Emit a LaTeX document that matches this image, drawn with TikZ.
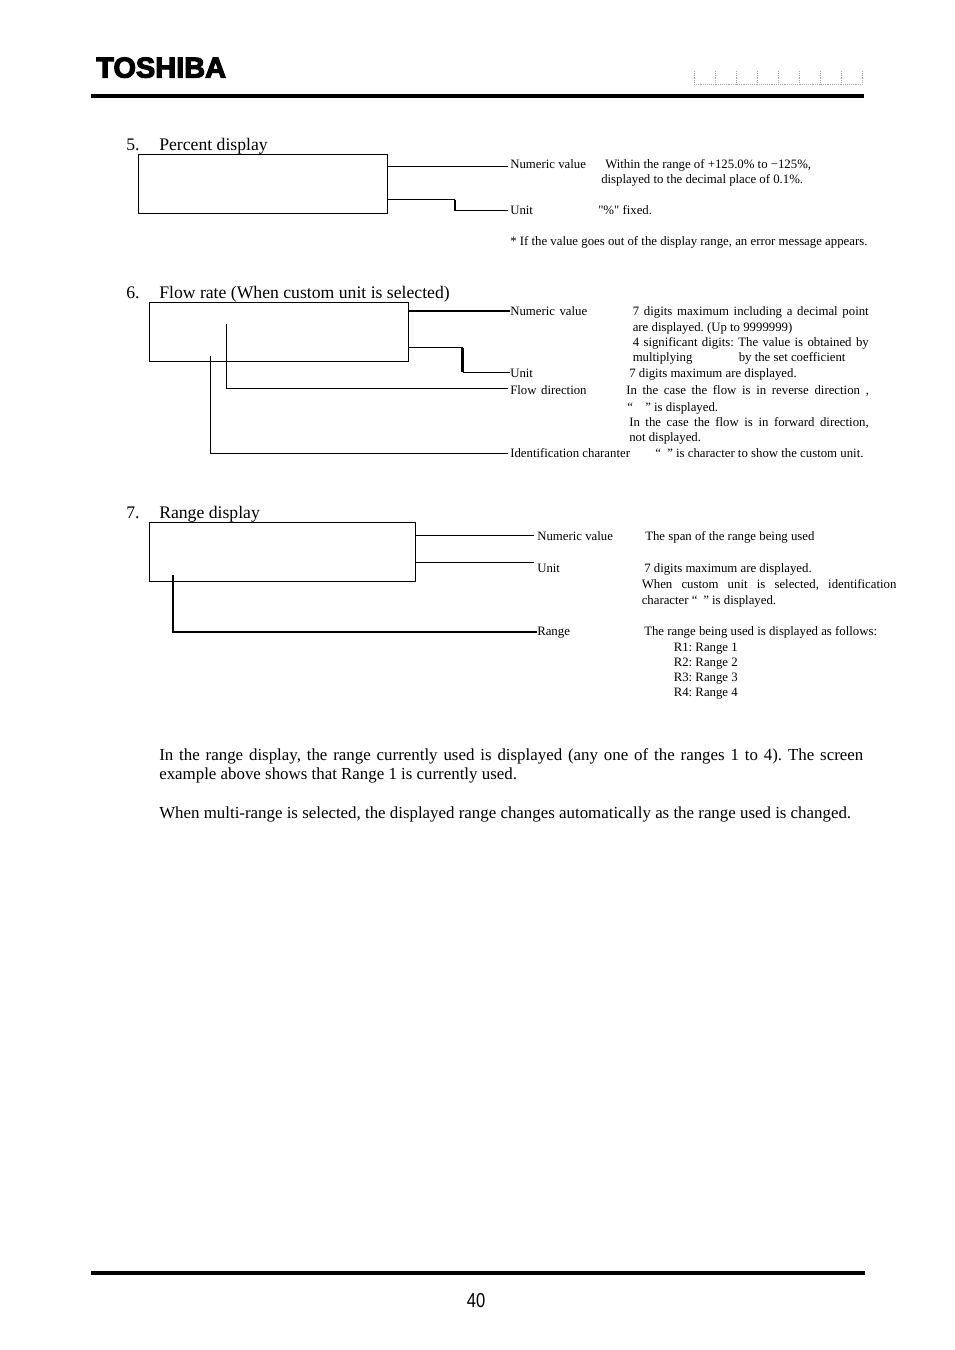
\documentclass[tikz,border=0pt]{standalone}
\usepackage{fontspec}
\setmainfont{Liberation Serif}
\newfontfamily\rawfont{Liberation Serif}
\newfontfamily\logofont[FakeBold=4]{Liberation Sans Bold}
\newfontfamily\numfont{Liberation Sans}
\newcommand{\sm}{\frenchspacing\fontsize{9.6}{11}\selectfont}
\newcommand{\bd}{\frenchspacing\fontsize{12.66}{15}\selectfont}
\newcommand{\hd}{\frenchspacing\fontsize{13.25}{15}\selectfont}
\newcommand{\jl}[2]{\makebox[#1][s]{#2}}
\tikzset{
  x=0.75pt,y=-0.75pt,
  small/.style={anchor=base west,inner sep=0pt,font=\sm},
  body/.style={anchor=base west,inner sep=0pt,font=\bd},
  head/.style={anchor=base west,inner sep=0pt,font=\hd},
  lcdbox/.style={draw,line width=0.75pt},
  lead/.style={line width=0.75pt},
  leadb/.style={line width=1.6pt},
  rulebar/.style={line width=2.6pt,line cap=butt},
  tickline/.style={line width=0.4pt,gray!70,densely dotted}
}
\begin{document}
\begin{tikzpicture}
\useasboundingbox (0,0) rectangle (954,1350);
\fill[white] (0,0) rectangle (954,1350);
% header
\node[anchor=base west,inner sep=0pt,font=\logofont\fontsize{21.5}{23}\selectfont] (logo) at (96,77.5) {\scalebox{1.01}[1.0]{TOSHIBA}};
\coordinate (h1) at (91,96); \coordinate (h2) at (864,96);
\draw[rulebar] (h1) -- (h2);
\coordinate (f1) at (91,1273); \coordinate (f2) at (865,1273);
\draw[rulebar] (f1) -- (f2);
\coordinate (r1) at (694,84.5); \coordinate (r2) at (863,84.5);
\draw[tickline] (r1) -- (r2);
\foreach \i in {0,...,8} {
  \draw[tickline] ({694.3+\i*21.05},71) -- ({694.3+\i*21.05},84.5);
}
\node[anchor=base,inner sep=0pt,font=\numfont\fontsize{13.5}{15}\selectfont] (pg) at (476,1307) {\scalebox{0.92}[1.12]{40}};

% section 5
\node[head] (t5n) at (126,150) {5.};
\node[head] (t5) at (159,150) {Percent display};
\node[lcdbox,anchor=north west,minimum width=249*0.75pt,minimum height=59*0.75pt,inner sep=0pt] (box5) at (138,154) {};
\node[small] (a1) at (510,168) {Numeric value};
\node[small] (a1a) at (605,168) {Within the range of +125.0\% to −125\%,};
\node[small] (a1b) at (601,183) {displayed to the decimal place of 0.1\%.};
\node[small] (a2) at (510,214) {Unit};
\node[small] (a2a) at (598,214) {{\rawfont"\%"} fixed.};
\node[small] (a3) at (510,245) {* If the value goes out of the display range, an error message appears.};
\coordinate (p1) at (388,166); \coordinate (p1e) at (508,166);
\draw[lead] (p1) -- (p1e);
\coordinate (p2) at (388,199.5); \coordinate (p2b) at (455,199.5); \coordinate (p2c) at (455,210.5); \coordinate (p2e) at (508,210.5);
\draw[lead] (p2) -- (p2b);
\draw[leadb] (p2b) -- (p2c);
\draw[lead] (p2c) -- (p2e);

% section 6
\node[head] (t6n) at (126,298) {6.};
\node[head] (t6) at (159,298) {Flow rate (When custom unit is selected)};
\node[lcdbox,anchor=north west,minimum width=259*0.75pt,minimum height=59*0.75pt,inner sep=0pt] (box6) at (149,302) {};
\node[small] (b1) at (510,315) {Numeric\hspace{1pt} value};
\node[small] (b1a) at (632.5,315) {\jl{177pt}{7 digits maximum including a decimal point}};
\node[small] (b1b) at (632.5,331) {are displayed. (Up to 9999999)};
\node[small] (b1c) at (632.5,346) {\jl{177pt}{4 significant digits: The value is obtained by}};
\node[small] (b1d) at (632.5,361) {multiplying};
\node[small] (b1e) at (738.5,361) {by the set coefficient};
\node[small] (b2) at (510,377) {Unit};
\node[small] (b2a) at (629,377) {7 digits maximum are displayed.};
\node[small] (b3) at (510,394) {Flow\hspace{1pt} direction};
\node[small] (b3a) at (626,394) {\jl{182pt}{In the case the flow is in reverse direction ,}};
\node[small] (b3b) at (627,411) {“};
\node[small] (b3c) at (645,411) {” is displayed.};
\node[small] (b3d) at (629,426) {\jl{179.6pt}{In the case the flow is in forward direction,}};
\node[small] (b3e) at (629,441) {not displayed.};
\node[small] (b4) at (510,457) {Identification charanter};
\node[small] (b4a) at (655,457) {“};
\node[small] (b4b) at (667,457) {” is character to show the custom unit.};
\coordinate (q1) at (408,311); \coordinate (q1e) at (510,311);
\draw[leadb] (q1) -- (q1e);
\coordinate (q2) at (409,347.5); \coordinate (q2b) at (462.5,347.5); \coordinate (q2c) at (462.5,372); \coordinate (q2e) at (510,372);
\draw[lead] (q2) -- (q2b);
\draw[leadb] (q2b) -- (q2c);
\draw[lead] (q2c) -- (q2e);
\coordinate (q3) at (226.5,324); \coordinate (q3b) at (226.5,388.5); \coordinate (q3e) at (508,388.5);
\draw[lead] (q3) -- (q3b) -- (q3e);
\coordinate (q4) at (210.5,356); \coordinate (q4b) at (210.5,453.5); \coordinate (q4e) at (508,453.5);
\draw[lead] (q4) -- (q4b) -- (q4e);

% section 7
\node[head] (t7n) at (126,518) {7.};
\node[head] (t7) at (159,518) {Range display};
\node[lcdbox,anchor=north west,minimum width=266*0.75pt,minimum height=59*0.75pt,inner sep=0pt] (box7) at (149,522) {};
\node[small] (c1) at (537,540) {Numeric value};
\node[small] (c1a) at (645,540) {The span of the range being used};
\node[small] (c2) at (537,572) {Unit};
\node[small] (c2a) at (644,572) {7 digits maximum are displayed.};
\node[small] (c2b) at (641.5,588) {\jl{191pt}{When custom unit is selected, identification}};
\node[small] (c2c) at (641.5,604) {character “};
\node[small] (c2d) at (703,604) {” is displayed.};
\node[small] (c3) at (537,635) {Range};
\node[small] (c3a) at (644,635) {The range being used is displayed as follows:};
\node[small] (c4) at (673.5,651) {R1: Range 1};
\node[small] (c5) at (673.5,666) {R2: Range 2};
\node[small] (c6) at (673.5,681) {R3: Range 3};
\node[small] (c7) at (673.5,696) {R4: Range 4};
\coordinate (s1) at (416,535.5); \coordinate (s1e) at (534,535.5);
\draw[lead] (s1) -- (s1e);
\coordinate (s2) at (416,562.5); \coordinate (s2e) at (534,562.5);
\draw[lead] (s2) -- (s2e);
\coordinate (s3) at (173,575); \coordinate (s3b) at (173,632); \coordinate (s3e) at (537,632);
\draw[leadb] (s3) -- (s3b) -- (s3e);

% paragraphs
\node[body] (p1a) at (159,760) {\jl{528pt}{In the range display, the range currently used is displayed (any one of the ranges 1 to 4). The screen}};
\node[body] (p1b) at (159,779) {example above shows that Range 1 is currently used.};
\node[body] (p2a) at (159,818) {When multi-range is selected, the displayed range changes automatically as the range used is changed.};
\end{tikzpicture}
\end{document}
